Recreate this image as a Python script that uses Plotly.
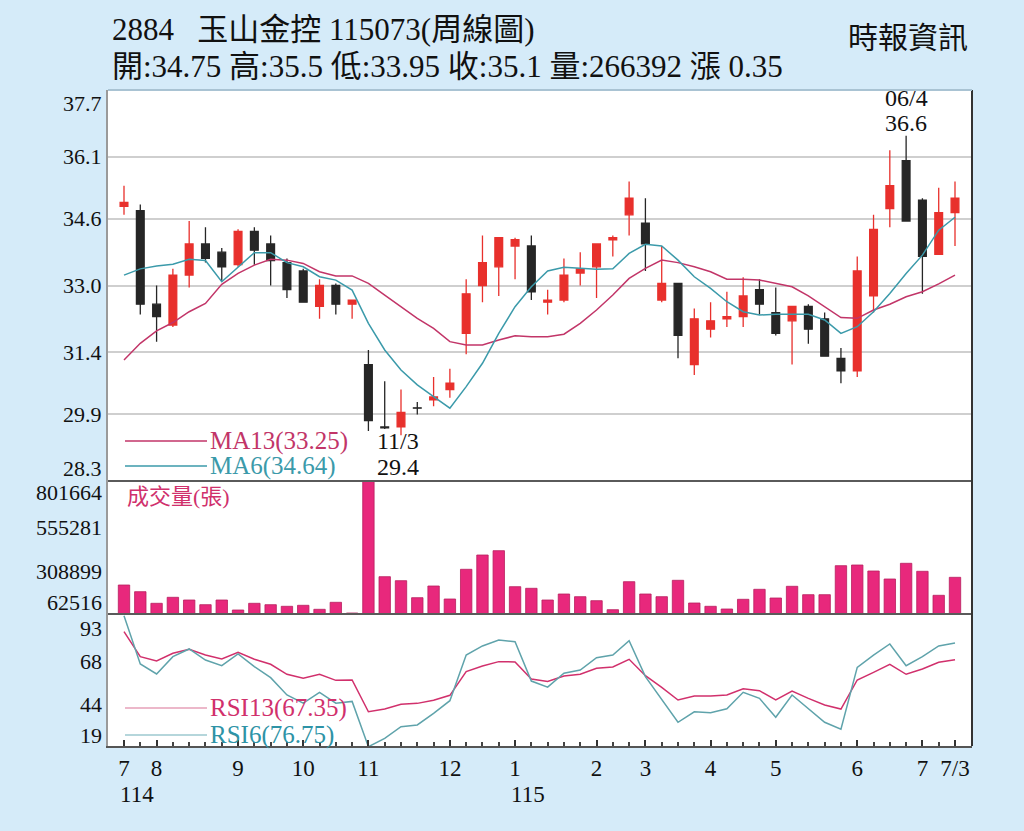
import plotly.graph_objects as go

# ---------------- data ----------------
opens  = [34.9, 34.8, 32.55, 32.05, 33.25, 34.0, 33.8, 33.5, 34.3, 34.0,
          33.55, 33.35, 32.5, 33.0, 32.55, 31.1, 29.6, 29.6, 30.06, 30.25,
          30.5, 31.85, 33.0, 33.45, 33.95, 33.95, 32.6, 32.65, 33.3, 33.45,
          34.1, 34.7, 34.5, 32.65, 33.05, 31.1, 31.95, 32.2, 32.25, 32.9,
          32.35, 32.15, 32.5, 32.2, 31.25, 30.95, 32.75, 34.85, 36.0, 35.05,
          33.75, 34.75]
highs  = [35.4, 34.95, 33.0, 33.4, 34.55, 34.4, 33.9, 34.35, 34.4, 34.2,
          33.65, 33.4, 33.15, 33.05, 32.65, 31.45, 30.7, 30.5, 30.2, 30.8,
          31.0, 33.15, 34.2, 34.15, 34.15, 34.2, 32.9, 33.65, 33.8, 34.0,
          34.2, 35.5, 35.1, 33.95, 33.05, 32.45, 32.6, 32.85, 33.2, 33.15,
          32.95, 32.5, 32.55, 32.35, 31.5, 33.7, 34.7, 36.25, 36.6, 35.1,
          35.35, 35.5]
lows   = [34.7, 32.3, 31.65, 32.0, 32.95, 33.55, 33.1, 33.45, 33.5, 33.0,
          32.7, 32.6, 32.2, 32.3, 32.2, 29.5, 29.55, 29.4, 29.9, 30.1,
          30.3, 31.35, 32.6, 32.75, 33.15, 32.65, 32.3, 32.6, 33.0, 32.7,
          33.7, 34.2, 33.35, 32.6, 31.25, 30.85, 31.75, 32.0, 32.0, 32.3,
          31.8, 31.1, 31.6, 31.3, 30.65, 30.8, 32.35, 34.4, 34.55, 32.8,
          33.75, 33.95]
closes = [35.0, 32.55, 32.25, 33.25, 34.0, 33.65, 33.45, 34.3, 33.85, 33.6,
          32.9, 32.6, 33.0, 32.55, 32.65, 29.75, 29.58, 29.95, 30.05, 30.32,
          30.65, 32.8, 33.55, 34.15, 34.1, 32.85, 32.65, 33.25, 33.4, 34.0,
          34.15, 35.1, 34.0, 33.05, 31.8, 32.2, 32.15, 32.25, 32.75, 32.55,
          31.85, 32.5, 31.95, 31.3, 30.95, 33.35, 34.35, 35.4, 34.55, 33.7,
          34.75, 35.1]
ma13 = [31.21, 31.61, 31.91, 32.11, 32.37, 32.57, 33.03, 33.29, 33.49, 33.63,
        33.61, 33.53, 33.33, 33.23, 33.23, 33.05, 32.77, 32.49, 32.21, 31.97,
        31.65, 31.57, 31.57, 31.69, 31.79, 31.77, 31.77, 31.83, 32.09, 32.41,
        32.77, 33.17, 33.41, 33.61, 33.55, 33.45, 33.33, 33.15, 33.15, 33.13,
        33.05, 32.97, 32.75, 32.49, 32.23, 32.21, 32.41, 32.55, 32.73, 32.85,
        33.04, 33.25]
ma6 = [33.25, 33.40, 33.47, 33.51, 33.63, 33.60, 33.09, 33.45, 33.79, 33.79,
       33.55, 33.45, 33.21, 33.13, 32.89, 32.09, 31.45, 30.97, 30.61, 30.33,
       30.05, 30.57, 31.13, 31.85, 32.49, 32.97, 33.35, 33.44, 33.41, 33.39,
       33.40, 33.77, 33.99, 33.95, 33.61, 33.21, 32.93, 32.61, 32.37, 32.29,
       32.31, 32.31, 32.31, 32.17, 31.85, 32.01, 32.37, 32.81, 33.29, 33.73,
       34.33, 34.64]
volume = [223684, 186449, 121981, 155327, 140321, 114200, 140321, 84746, 121981, 114200,
          105309, 110866, 88637, 127539, 68074, 801664, 269813, 247582, 153100, 218126,
          145879, 310937, 390408, 414300, 214240, 205345, 140321, 173666, 158664, 136430,
          86414, 242025, 173666, 158664, 249805, 123649, 105309, 90304, 144212, 199788,
          151436, 216463, 169776, 169776, 330944, 334834, 301489, 257029, 344280, 299820,
          166440, 266392]
rsi13 = [83.1, 69.1, 66.7, 71.0, 73.2, 70.0, 67.8, 71.5, 67.6, 64.8,
         59.2, 57.0, 59.2, 55.8, 56.0, 38.2, 39.7, 42.4, 42.9, 44.6,
         47.4, 60.7, 63.8, 66.3, 66.1, 56.6, 55.2, 58.2, 59.2, 62.6,
         63.3, 67.6, 58.4, 51.9, 44.8, 47.0, 47.0, 47.6, 51.1, 50.0,
         44.8, 49.8, 45.7, 42.0, 39.7, 56.0, 60.3, 64.8, 59.2, 62.2,
         65.9, 67.35]
rsi6 = [92.0, 65.0, 59.4, 69.1, 73.4, 67.2, 64.0, 70.6, 63.5, 57.3,
        47.6, 43.0, 49.0, 43.0, 44.0, 18.6, 23.3, 29.8, 30.8, 37.3,
        44.4, 70.0, 75.1, 78.4, 77.5, 55.4, 52.0, 59.8, 61.6, 68.5,
        70.0, 78.0, 57.9, 44.8, 32.3, 38.2, 37.7, 39.9, 49.1, 45.7,
        35.1, 47.6, 40.1, 32.3, 28.4, 63.1, 70.0, 76.2, 64.0, 69.1,
        75.1, 76.75]

price_ticks = [28.3, 29.9, 31.4, 33.0, 34.6, 36.1, 37.7]
vol_ticks = [62516, 308899, 555281, 801664]
rsi_ticks = [19, 44, 68, 93]
month_pos = [0, 2, 7, 11, 15, 20, 24, 29, 32, 36, 40, 45, 49, 51]
month_labels = ["7", "8", "9", "10", "11", "12", "1", "2", "3", "4", "5", "6", "7", "7/3"]
year_labels = [(0.8, "114"), (24.8, "115")]

x = list(range(len(closes)))

# ---------------- layout geometry (pixels) ----------------
W, H = 1024, 831
L, R, T, B = 108, 972, 90, 746
def py(ypix):
    return (B - ypix) / (B - T)
def pxp(xpix):
    return (xpix - L) / (R - L)

SERIF = "Liberation Serif, Noto Sans CJK TC, serif"
RED = "#e8302c"
BLK = "#262626"
C_MA13 = "#c23568"
C_MA6 = "#3b9aaa"
C_R13 = "#d1306c"
C_R6 = "#5fa3ab"

fig = go.Figure()
fig.add_trace(go.Candlestick(
    x=x, open=opens, high=highs, low=lows, close=closes,
    increasing=dict(line=dict(color=RED, width=1.3), fillcolor=RED),
    decreasing=dict(line=dict(color=BLK, width=1.3), fillcolor=BLK),
    whiskerwidth=0, xaxis="x", yaxis="y", hoverinfo="skip", showlegend=False))
fig.add_trace(go.Scatter(x=x, y=ma13, mode="lines", line=dict(color=C_MA13, width=1.5),
                         xaxis="x", yaxis="y", showlegend=False, hoverinfo="skip"))
fig.add_trace(go.Scatter(x=x, y=ma6, mode="lines", line=dict(color=C_MA6, width=1.5),
                         xaxis="x", yaxis="y", showlegend=False, hoverinfo="skip"))
fig.add_trace(go.Bar(x=x, y=volume, width=0.7, marker=dict(color="#e8287c",
                     line=dict(color="#b81e5e", width=0.8)),
                     xaxis="x", yaxis="y2", showlegend=False, hoverinfo="skip"))
fig.add_trace(go.Scatter(x=x, y=rsi13, mode="lines", line=dict(color=C_R13, width=1.5),
                         xaxis="x", yaxis="y3", showlegend=False, hoverinfo="skip"))
fig.add_trace(go.Scatter(x=x, y=rsi6, mode="lines", line=dict(color=C_R6, width=1.5),
                         xaxis="x", yaxis="y3", showlegend=False, hoverinfo="skip"))

d_price = [py(481), 1.0]
d_vol = [py(614), py(481)]
d_rsi = [0.0, py(614)]

x0 = (L - 124) / ((955 - 124) / 51)
x1 = (R - 124) / ((955 - 124) / 51)

fig.update_layout(
    width=W, height=H,
    margin=dict(l=L, r=W - R, t=T, b=H - B, pad=0),
    paper_bgcolor="#d5ebf9", plot_bgcolor="#ffffff",
    boxgap=0.32,
    font=dict(family=SERIF, color="#111111"),
    xaxis=dict(range=[x0, x1], anchor="y3", rangeslider=dict(visible=False),
               tickmode="array", tickvals=month_pos, ticktext=month_labels,
               ticks="inside", ticklen=6, tickcolor="#333", tickwidth=1.5,
               ticklabelstandoff=0,
               tickfont=dict(family=SERIF, size=23, color="#111"),
               showgrid=False, zeroline=False, showline=True, linecolor="#555", linewidth=2,
               minor=dict(dtick=1, tick0=0, ticks="inside", ticklen=4, tickcolor="#444",
                          showgrid=False)),
    yaxis=dict(domain=d_price, range=[28.3, 37.7], tickmode="array", tickvals=price_ticks,
               showticklabels=False, showgrid=True, gridcolor="#cfcfcf", gridwidth=2,
               zeroline=False, showline=True, linecolor="#9a9a9a", linewidth=1.5),
    yaxis2=dict(domain=d_vol, range=[62516, 801664], showticklabels=False, showgrid=False,
                zeroline=False, showline=True, linecolor="#9a9a9a", linewidth=1.5),
    yaxis3=dict(domain=d_rsi, range=[19, 93], showticklabels=False, showgrid=False,
                zeroline=False, showline=True, linecolor="#9a9a9a", linewidth=1.5),
)

ann = []
def tick_ann(val, yref, shift, txt):
    ann.append(dict(x=0, xref="paper", xanchor="right", xshift=-4, y=val, yref=yref,
                    yanchor="middle", yshift=shift, text=txt, showarrow=False,
                    font=dict(family=SERIF, size=22, color="#111")))

for v in price_ticks:
    s = -13 if v == price_ticks[-1] else (13 if v == price_ticks[0] else 0)
    tick_ann(v, "y", s, f"{v:.1f}")
for v in vol_ticks:
    s = -12 if v == vol_ticks[-1] else (12 if v == vol_ticks[0] else -2)
    tick_ann(v, "y2", s, str(v))
for v in rsi_ticks:
    s = -14 if v == rsi_ticks[-1] else (11 if v == rsi_ticks[0] else -3)
    tick_ann(v, "y3", s, str(v))

for xi, t in year_labels:
    ann.append(dict(x=xi, xref="x", y=py(794), yref="paper", text=t, showarrow=False,
                    xanchor="center", yanchor="middle",
                    font=dict(family=SERIF, size=23, color="#111")))

# titles
ann.append(dict(x=pxp(110), xref="paper", y=py(30), yref="paper", xanchor="left", yanchor="middle",
                text="2884&nbsp;&nbsp;&nbsp;玉山金控 115073(周線圖)", showarrow=False,
                font=dict(family=SERIF, size=31, color="#111")))
ann.append(dict(x=pxp(110), xref="paper", y=py(67), yref="paper", xanchor="left", yanchor="middle",
                text="開:34.75 高:35.5 低:33.95 收:35.1 量:266392 漲 0.35", showarrow=False,
                font=dict(family=SERIF, size=31, color="#111")))
ann.append(dict(x=pxp(970), xref="paper", y=py(38), yref="paper", xanchor="right", yanchor="middle",
                text="時報資訊", showarrow=False,
                font=dict(family=SERIF, size=30, color="#111")))

# legends
def legend(ypix, color_line, color_txt, txt):
    ann.append(dict(x=pxp(208), xref="paper", y=py(ypix), yref="paper", xanchor="left",
                    yanchor="middle", text=txt, showarrow=False,
                    font=dict(family=SERIF, size=25, color=color_txt)))
    return dict(type="line", xref="paper", yref="paper", x0=pxp(125), x1=pxp(207),
                y0=py(ypix), y1=py(ypix), line=dict(color=color_line, width=1.3))

shapes = []
shapes.append(legend(441, C_MA13, C_MA13, "MA13(33.25)"))
shapes.append(legend(466, C_MA6, C_MA6, "MA6(34.64)"))
shapes.append(legend(708, "#e6a0b8", C_R13, "RSI13(67.35)"))
shapes.append(legend(735, "#9cc9cf", "#2e93a6", "RSI6(76.75)"))

ann.append(dict(x=pxp(125), xref="paper", y=py(497), yref="paper", xanchor="left", yanchor="middle",
                text="成交量(張)", showarrow=False,
                font=dict(family=SERIF, size=22, color="#d0306c")))

# extreme annotations
ann.append(dict(x=16.8, xref="x", y=29.4, yref="y", yshift=-6, yanchor="middle", text="11/3",
                showarrow=False, font=dict(family=SERIF, size=24, color="#111")))
ann.append(dict(x=16.8, xref="x", y=29.4, yref="y", yshift=-32, yanchor="middle", text="29.4",
                showarrow=False, font=dict(family=SERIF, size=24, color="#111")))
ann.append(dict(x=48, xref="x", y=36.6, yref="y", yshift=38, yanchor="middle", text="06/4",
                showarrow=False, font=dict(family=SERIF, size=24, color="#111")))
ann.append(dict(x=48, xref="x", y=36.6, yref="y", yshift=13, yanchor="middle", text="36.6",
                showarrow=False, font=dict(family=SERIF, size=24, color="#111")))

# panel separators and frame
for yy in (481, 614):
    shapes.append(dict(type="line", xref="paper", yref="paper", x0=0, x1=1, y0=py(yy), y1=py(yy),
                       line=dict(color="#5a5a5a", width=2)))
shapes.append(dict(type="line", xref="paper", yref="paper", x0=1, x1=1, y0=0, y1=1,
                   line=dict(color="#333333", width=2)))
shapes.append(dict(type="line", xref="paper", yref="paper", x0=0, x1=1, y0=1, y1=1,
                   line=dict(color="#a9c3d3", width=2)))

fig.update_layout(annotations=ann, shapes=shapes)
fig.write_html("out.html")
